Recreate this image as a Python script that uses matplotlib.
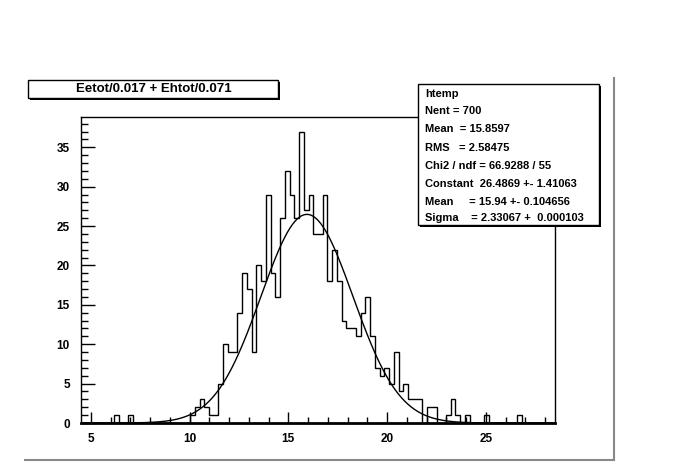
import numpy as np
import matplotlib
matplotlib.use("Agg")
import matplotlib.pyplot as plt
from matplotlib.patches import Rectangle
from matplotlib.lines import Line2D

# ---- data ----
x_low, x_high, n_bins = 4.5, 28.5, 100
counts = [0, 0, 0, 0, 0, 0, 0, 1, 0, 0,
          1, 0, 0, 0, 0, 0, 0, 0, 0, 0,
          0, 0, 0, 1, 2, 3, 2, 1, 1, 5,
          10, 9, 9, 14, 19, 17, 9, 20, 18, 29,
          19, 16, 26, 32, 29, 26, 37, 27, 29, 24,
          24, 29, 18, 22, 18, 13, 12, 12, 11, 14,
          16, 11, 7, 6, 7, 5, 9, 4, 5, 3,
          3, 3, 0, 2, 2, 0, 0, 1, 3, 1,
          0, 1, 0, 0, 0, 1, 0, 0, 0, 0,
          0, 0, 1, 0, 0, 0, 0, 0, 0, 0]
fit_constant, fit_mean, fit_sigma = 26.4869, 15.94, 2.33067
title_text = "Eetot/0.017 + Ehtot/0.071"
stats_lines = ["htemp",
               "Nent = 700",
               "Mean  = 15.8597",
               "RMS   = 2.58475",
               "Chi2 / ndf = 66.9288 / 55",
               "Constant  26.4869 +- 1.41063",
               "Mean     = 15.94 +- 0.104656",
               "Sigma    = 2.33067 +  0.000103"]
x_major = [5, 10, 15, 20, 25]
y_major = [0, 5, 10, 15, 20, 25, 30, 35]

W, H = 674, 476
fig = plt.figure(figsize=(W / 100, H / 100), dpi=100)
fig.patch.set_facecolor("white")

def fx(px):
    return px / W

def fy(py):
    return 1 - py / H

L, R, T, B = 81, 555, 117, 423
ax = fig.add_axes([fx(L), fy(B), fx(R) - fx(L), fy(T) - fy(B)])

edges = np.linspace(x_low, x_high, n_bins + 1)
ax.stairs(counts, edges, color="black", linewidth=1.0, baseline=0)

xs = np.linspace(x_low, x_high, 600)
ys = fit_constant * np.exp(-0.5 * ((xs - fit_mean) / fit_sigma) ** 2)
ax.plot(xs, ys, color="black", linewidth=1.0)

ax.set_xlim(x_low, x_high)
ax.set_ylim(0, max(counts) * 1.05)
ax.set_xticks(x_major)
ax.set_yticks(y_major)
ax.set_xticks(np.arange(5, 29, 1), minor=True)
ax.set_yticks(np.arange(0, 39, 1), minor=True)
ax.tick_params(axis="x", which="major", direction="in", length=8, width=1, pad=7, labelsize=8.5)
ax.tick_params(axis="x", which="minor", direction="in", length=4, width=1)
ax.tick_params(axis="y", which="major", direction="in", length=10, width=1, pad=8, labelsize=8.5)
ax.tick_params(axis="y", which="minor", direction="in", length=5, width=1)
for lab in ax.get_xticklabels() + ax.get_yticklabels():
    lab.set_fontweight("bold")
    lab.set_family("Liberation Sans")
for s in ax.spines.values():
    s.set_linewidth(1.0)
ax.spines["bottom"].set_linewidth(2.0)

# canvas bevel lines
fig.add_artist(Line2D([fx(25), fx(614)], [fy(460), fy(460)], color="#888888", lw=1.5))
fig.add_artist(Line2D([fx(614), fx(614)], [fy(78), fy(460)], color="#888888", lw=1.5))

def shadow_box(x0, y0, x1, y1, sh=3):
    fig.add_artist(Rectangle((fx(x0 + sh), fy(y1 + sh)), fx(x1) - fx(x0), fy(y0) - fy(y1),
                             transform=fig.transFigure, facecolor="black", edgecolor="none", zorder=5))
    fig.add_artist(Rectangle((fx(x0), fy(y1)), fx(x1) - fx(x0), fy(y0) - fy(y1),
                             transform=fig.transFigure, facecolor="white", edgecolor="black",
                             linewidth=1, zorder=6))

# title box
shadow_box(28, 80, 278, 98, sh=2)
fig.text(fx(154), fy(89), title_text, ha="center", va="center", fontsize=9.5,
         fontweight="bold", family="Liberation Sans", zorder=7)

# stats box
shadow_box(418, 84, 599, 225, sh=2)
ys_txt = [94, 111, 129, 148, 166, 184, 202, 218]
for t, yy in zip(stats_lines, ys_txt):
    fig.text(fx(425), fy(yy), t, ha="left", va="center", fontsize=8,
             fontweight="bold", family="Liberation Sans", zorder=7)

fig.savefig("out.png", dpi=100, facecolor="white")
